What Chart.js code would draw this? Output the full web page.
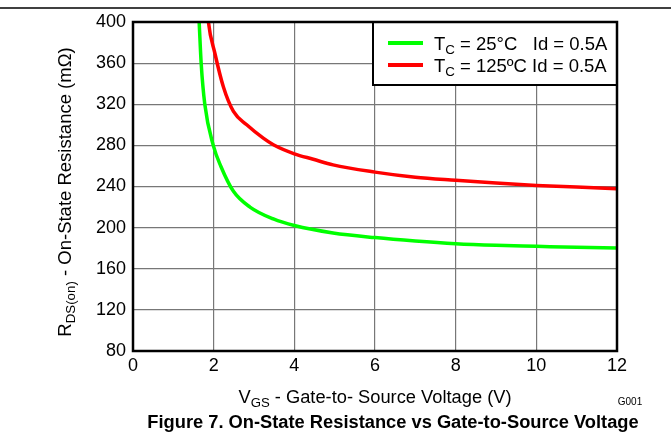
<!DOCTYPE html>
<html><head><meta charset="utf-8">
<script src="https://cdn.jsdelivr.net/npm/chart.js@4"></script>
<style>html,body{margin:0;padding:0;background:#fff;}#wrap{width:671px;height:434px;position:relative;}</style>
</head><body><div id="wrap"><canvas id="c" width="671" height="434"></canvas></div>
<script>
const vgs25 = [1.60, 1.64, 1.69, 1.78, 1.99, 2.18, 2.49, 2.90, 3.48, 4.00, 4.96, 6, 7, 8, 9, 10, 11, 12];
const rds25 = [430, 400, 360, 320, 280, 259.5, 235.3, 220, 208.4, 202, 194.8, 190.3, 187, 184.4, 182.8, 181.8, 180.8, 180.2];
const vgs125 = [1.84, 1.87, 2.03, 2.24, 2.49, 2.82, 3.23, 3.48, 4.00, 4.47, 4.96, 6, 7, 8, 9, 10, 11, 12];
const rds125 = [415, 400, 369.6, 337, 313, 300, 287, 280.6, 271.8, 266.5, 261, 254, 249, 246, 243.3, 241, 239.4, 237.8];
const xTicks = [0, 2, 4, 6, 8, 10, 12];
const yTicks = [80, 120, 160, 200, 240, 280, 320, 360, 400];
const legend25 = [{t:'T'},{t:'C',sub:true},{t:' = 25°C   Id = 0.5A'}];
const legend125 = [{t:'T'},{t:'C',sub:true},{t:' = 125ºC Id = 0.5A'}];
const xTitle = [{t:'V'},{t:'GS',sub:true},{t:' - Gate-to- Source Voltage (V)'}];
const yTitle = [{t:'R'},{t:'DS(on)',sub:true},{t:' - On-State Resistance (mΩ)'}];
const caption = 'Figure 7. On-State Resistance vs Gate-to-Source Voltage';
const figId = 'G001';

const FONT = '"Liberation Sans", Arial, sans-serif';
function richWidth(ctx, parts, size){
  let w=0;
  for(const p of parts){ctx.font=(p.sub?size*0.72:size)+'px '+FONT; w+=ctx.measureText(p.t).width;}
  return w;
}
function drawRich(ctx, parts, x, y, size, align){
  const w = richWidth(ctx, parts, size);
  let cx = align==='center' ? x - w/2 : x;
  ctx.textBaseline='alphabetic'; ctx.textAlign='left'; ctx.fillStyle='#000';
  for(const p of parts){
    const s = p.sub?size*0.72:size;
    ctx.font=s+'px '+FONT;
    ctx.fillText(p.t, cx, p.sub ? y + size*0.22 : y);
    cx += ctx.measureText(p.t).width;
  }
}
const deco = {
  id:'deco',
  afterDraw(chart){
    const ctx = chart.ctx, a = chart.chartArea;
    ctx.save();
    ctx.strokeStyle='#000'; ctx.lineWidth=1.5;
    ctx.beginPath(); ctx.moveTo(0,8); ctx.lineTo(671,8); ctx.stroke();
    const lx = 373, ly = a.top, lw = a.right - 373, lh = 63;
    ctx.fillStyle='#fff'; ctx.fillRect(lx, ly, lw, lh);
    ctx.lineWidth=2; ctx.strokeStyle='#000'; ctx.strokeRect(lx, ly, lw, lh);
    ctx.lineWidth=4;
    ctx.strokeStyle='#00ff00'; ctx.beginPath(); ctx.moveTo(388,43); ctx.lineTo(423,43); ctx.stroke();
    ctx.strokeStyle='#ff0000'; ctx.beginPath(); ctx.moveTo(388,65); ctx.lineTo(423,65); ctx.stroke();
    drawRich(ctx, legend25, 434, 49.5, 18.5, 'left');
    drawRich(ctx, legend125, 434, 71.5, 18.5, 'left');
    ctx.lineWidth=2.5; ctx.strokeStyle='#000';
    ctx.strokeRect(a.left, a.top, a.right-a.left, a.bottom-a.top);
    drawRich(ctx, xTitle, (a.left+a.right)/2, 403, 18.3, 'center');
    ctx.save(); ctx.translate(71, 192); ctx.rotate(-Math.PI/2);
    drawRich(ctx, yTitle, 0, 0, 18.5, 'center'); ctx.restore();
    ctx.font='10px '+FONT; ctx.textAlign='center'; ctx.fillStyle='#000';
    ctx.fillText(figId, 630, 405);
    ctx.font='bold 18.3px '+FONT; ctx.textAlign='center';
    ctx.fillText(caption, 393, 428);
    ctx.restore();
  }
};
new Chart(document.getElementById('c'), {
  type:'scatter',
  data:{datasets:[
    {data: vgs25.map((v,i)=>({x:v,y:rds25[i]})), borderColor:'#00ff00', borderWidth:3.5, showLine:true, pointRadius:0, cubicInterpolationMode:'monotone'},
    {data: vgs125.map((v,i)=>({x:v,y:rds125[i]})), borderColor:'#ff0000', borderWidth:3.5, showLine:true, pointRadius:0, cubicInterpolationMode:'monotone'}
  ]},
  options:{
    responsive:false, animation:false, devicePixelRatio:1,
    layout:{padding:{top:22,right:54,left:0,bottom:0}},
    plugins:{legend:{display:false}, tooltip:{enabled:false}},
    scales:{
      x:{type:'linear', min:0, max:12,
        afterBuildTicks(s){ s.ticks = xTicks.map(v=>({value:v})); },
        afterFit(s){ s.height = 83; },
        grid:{color:'#777', lineWidth:1.2, drawTicks:false}, border:{display:false},
        ticks:{padding:4, color:'#000', font:{family:FONT, size:18}, maxRotation:0}},
      y:{type:'linear', min:80, max:400,
        afterBuildTicks(s){ s.ticks = yTicks.map(v=>({value:v})); },
        afterFit(s){ s.width = 133; },
        grid:{color:'#777', lineWidth:1.2, drawTicks:false}, border:{display:false},
        ticks:{padding:7, color:'#000', font:{family:FONT, size:18}}}
    }
  },
  plugins:[deco]
});
</script></body></html>
